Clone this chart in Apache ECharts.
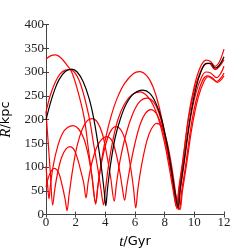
<!DOCTYPE html>
<html><head><meta charset="utf-8">
<script src="https://cdn.jsdelivr.net/npm/echarts@6/dist/echarts.min.js"></script>
<style>html,body{margin:0;padding:0;background:#fff}#c{width:249px;height:249px}</style>
</head><body><div id="c"></div>
<script>
var xTicks = [0, 2, 4, 6, 8, 10, 12];
var yTicks = [0, 50, 100, 150, 200, 250, 300, 350, 400];
var xLabel = 't/Gyr';
var yLabel = 'R/kpc';

var orbitBlack = [[0,199],[0.3,235],[0.6,264],[0.9,285],[1.3,301],[1.73,306],[2.1,300],[2.5,280],[2.9,245],[3.2,205],[3.5,150],[3.75,95],[3.92,50],[4.03,18],[4.15,55],[4.35,105],[4.65,160],[5.0,200],[5.4,232],[5.9,254],[6.52,262],[7.0,255],[7.4,235],[7.8,200],[8.15,150],[8.45,95],[8.7,45],[8.9,15],[9.05,55],[9.3,110],[9.7,200],[10.1,265],[10.5,305],[10.8,318],[11.1,318],[11.4,308],[11.7,315],[12,332]];
var orbitTwin = [[0,216],[0.3,252],[0.6,277],[0.95,296],[1.3,304],[1.6,305],[2.0,296],[2.4,268],[2.9,206],[3.2,150],[3.5,95],[3.72,50],[3.88,20],[4.0,50],[4.2,100],[4.5,155],[4.85,200],[5.3,233],[5.8,252],[6.34,258],[6.8,250],[7.2,232],[7.6,200],[8.0,150],[8.3,100],[8.55,55],[8.8,15],[8.95,55],[9.2,110],[9.6,200],[10.0,262],[10.4,300],[10.7,315],[11.0,318],[11.4,305],[11.7,312],[12,326]];
var orbitTop = [[0,327],[0.3,334],[0.65,336],[1.0,330],[1.4,315],[1.73,300],[2.1,265],[2.56,206],[2.85,140],[3.1,80],[3.35,22],[3.5,60],[3.75,115],[4.05,165],[4.4,208],[4.8,245],[5.3,276],[5.9,297],[6.3,301],[6.8,292],[7.2,270],[7.6,230],[8.0,170],[8.3,115],[8.55,65],[8.83,12],[8.98,55],[9.25,115],[9.6,205],[10.0,270],[10.4,310],[10.8,325],[11.1,322],[11.4,312],[11.7,322],[12,348]];
var orbitA = [[0,101],[0.1,65],[0.2,33],[0.3,62],[0.5,105],[0.8,145],[1.1,170],[1.45,183],[1.85,187],[2.2,180],[2.55,160],[2.85,125],[3.1,80],[3.35,25],[3.5,60],[3.75,110],[4.05,150],[4.35,175],[4.7,185],[5.05,178],[5.4,150],[5.7,100],[5.9,55],[6.05,14],[6.2,55],[6.45,105],[6.8,155],[7.1,180],[7.46,192],[7.8,185],[8.1,160],[8.4,115],[8.65,65],[8.92,10],[9.05,50],[9.3,105],[9.7,195],[10.1,255],[10.5,290],[10.8,300],[11.1,298],[11.5,288],[11.8,298],[12,312]];
var orbitB = [[0,216],[0.15,150],[0.3,85],[0.45,20],[0.6,55],[0.8,90],[1.05,120],[1.35,138],[1.62,143],[1.9,136],[2.15,115],[2.4,85],[2.55,65],[2.7,35],[2.85,70],[3.1,110],[3.4,140],[3.75,158],[4.1,164],[4.45,155],[4.75,125],[5.0,85],[5.15,55],[5.3,30],[5.45,60],[5.7,105],[6.0,150],[6.35,190],[6.7,213],[7.06,221],[7.45,212],[7.85,180],[8.2,130],[8.5,80],[8.75,40],[9.0,12],[9.15,50],[9.4,100],[9.8,190],[10.2,250],[10.6,285],[10.9,292],[11.2,288],[11.5,280],[11.8,288],[12,298]];
var orbitC = [[0,58],[0.25,85],[0.55,97],[0.85,88],[1.1,60],[1.3,30],[1.42,8],[1.55,40],[1.8,95],[2.1,145],[2.45,180],[2.8,198],[3.12,202],[3.45,195],[3.8,170],[4.1,125],[4.35,80],[4.6,28],[4.75,65],[5.0,115],[5.4,170],[5.85,212],[6.3,237],[6.8,245],[7.3,235],[7.7,205],[8.1,150],[8.45,90],[8.75,40],[9.03,10],[9.2,50],[9.45,100],[9.85,185],[10.25,245],[10.65,280],[10.95,290],[11.25,285],[11.55,278],[11.85,285],[12,292]];

var chart = echarts.init(document.getElementById('c'), null, {renderer: 'canvas'});
var axisCol = '#444';
var lblFont = {fontFamily: 'Liberation Serif', fontSize: 13, color: '#222'};
function xax(pos, show) {
  return {type: 'value', position: pos, min: xTicks[0], max: xTicks[xTicks.length-1], interval: 2,
    axisLine: {show: true, lineStyle: {color: axisCol, width: 1}},
    axisTick: {show: true, inside: true, length: 3, lineStyle: {color: axisCol}},
    axisLabel: Object.assign({show: show, margin: 2}, lblFont),
    splitLine: {show: false}};
}
function yax(pos, show) {
  return {type: 'value', position: pos, min: yTicks[0], max: yTicks[yTicks.length-1], interval: 50,
    axisLine: {show: true, lineStyle: {color: axisCol, width: 1}},
    axisTick: {show: true, inside: true, length: 3, lineStyle: {color: axisCol}},
    axisLabel: Object.assign({show: show, margin: 2}, lblFont),
    splitLine: {show: false}};
}
var nameRich = {rich: {i: {fontFamily: 'Liberation Serif', fontStyle: 'italic', fontSize: 15, color: '#000'}, n: {fontFamily: 'DejaVu Sans', fontSize: 13, color: '#000'}}};
var xa = xax('bottom', true);
xa.name = '{i|t}{n|/Gyr}';
xa.nameLocation = 'middle';
xa.nameGap = 20;
xa.nameTextStyle = nameRich;
var ya = yax('left', true);
ya.name = '{i|R}{n|/kpc}';
ya.nameLocation = 'middle';
ya.nameGap = 29;
ya.nameRotate = 90;
ya.nameTextStyle = nameRich;

function ser(data, col) {
  return {type: 'line', data: data, xAxisIndex: 0, yAxisIndex: 0, showSymbol: false, smooth: 0.35,
    lineStyle: {color: col, width: 1.2}, clip: true, silent: true, animation: false};
}
chart.setOption({
  animation: false,
  grid: {left: 46, right: 25, top: 24.5, bottom: 34.5, containLabel: false, outerBoundsMode: 'none'},
  xAxis: [xa, xax('top', false)],
  yAxis: [ya, yax('right', false)],
  series: [ser(orbitC, '#ff0000'), ser(orbitB, '#ff0000'), ser(orbitA, '#ff0000'), ser(orbitTop, '#ff0000'), ser(orbitTwin, '#ff0000'), ser(orbitBlack, '#000000')]
});
</script></body></html>
